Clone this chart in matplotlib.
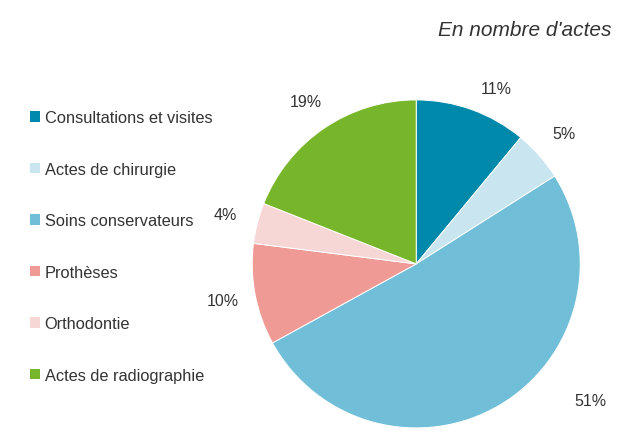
import numpy as np
import matplotlib
matplotlib.use("Agg")
import matplotlib.pyplot as plt
from matplotlib.patches import Patch

categories = ["Consultations et visites", "Actes de chirurgie", "Soins conservateurs",
              "Prothèses", "Orthodontie", "Actes de radiographie"]
shares = [11, 5, 51, 10, 4, 19]
colors = ["#0089AA", "#C9E6F0", "#71BED8", "#F09A96", "#F7D6D6", "#77B52A"]

font = "Liberation Sans"

fig = plt.figure(figsize=(6.18, 4.35), dpi=100)
ax = fig.add_axes([0.408, 0.014, 0.531, 0.754])

wedges, texts, autotexts = ax.pie(
    shares, colors=colors, startangle=90, counterclock=False,
    autopct="%d%%", pctdistance=1.2,
    wedgeprops=dict(edgecolor="white", linewidth=0.7),
    textprops=dict(fontsize=11.5, color="#333333", family=font))
# Excel puts the big slice's label off to the lower right
autotexts[2].set_position((1.06, -0.835))
autotexts[0].set_position((0.49, 1.07))
ax.set_xlim(-1, 1)
ax.set_ylim(-1, 1)
ax.set_aspect("equal")

fig.text(0.99, 0.93, "En nombre d'actes", ha="right", va="center",
         fontsize=15, style="italic", color="#333333", family=font)

handles = [Patch(facecolor=c, edgecolor="none") for c in colors]
fig.legend(handles, categories, loc="upper left", bbox_to_anchor=(0.035, 0.763),
           frameon=False, handlelength=0.6, handleheight=0.6, handletextpad=0.3,
           labelspacing=2.23, borderpad=0,
           prop=dict(family=font, size=11.8), labelcolor="#333333")

fig.savefig("out.png", dpi=100, facecolor="white")
